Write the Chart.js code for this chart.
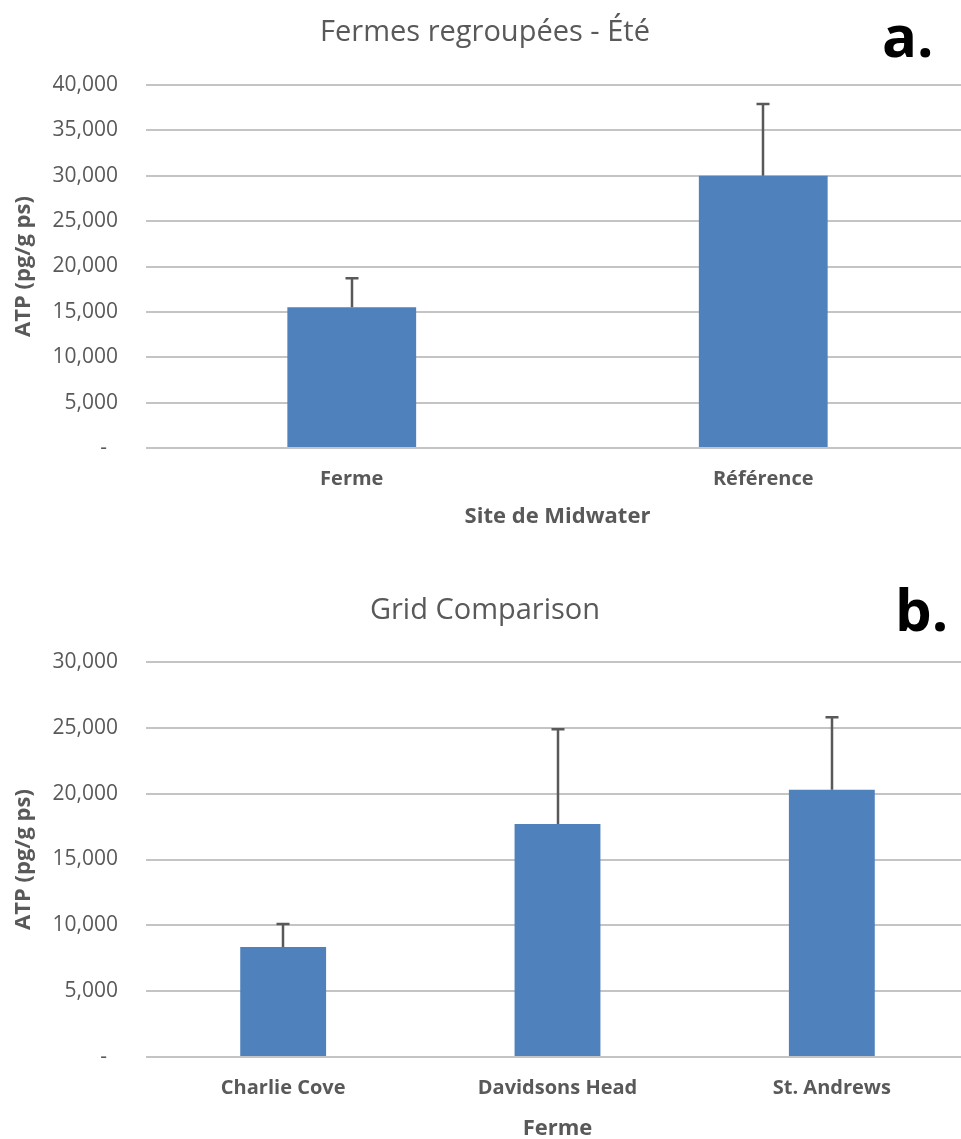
<!DOCTYPE html>
<html>
<head>
<meta charset="utf-8">
<script src="https://cdn.jsdelivr.net/npm/chart.js@4.4.1/dist/chart.umd.min.js"></script>
<style>
  html, body { margin: 0; padding: 0; background: #ffffff; overflow: hidden; width: 961px; height: 1139px; }
  .box { position: absolute; left: 0; width: 975px; }
  #boxA { top: 0; height: 560px; }
  #boxB { top: 560px; height: 579px; }
</style>
</head>
<body>
<div class="box" id="boxA"><canvas id="chartA"></canvas></div>
<div class="box" id="boxB"><canvas id="chartB"></canvas></div>
<script>
// ---- Data ----
const titleA = 'Fermes regroupées - Été';
const panelA = 'a.';
const categoriesA = ['Ferme', 'Référence'];
const meansA = [15500, 30000];
const errorsA = [3200, 7900];
const yTicksMaxA = 40000;
const xTitleA = 'Site de Midwater';

const titleB = 'Grid Comparison';
const panelB = 'b.';
const categoriesB = ['Charlie Cove', 'Davidsons Head', 'St. Andrews'];
const meansB = [8350, 17700, 20300];
const errorsB = [1750, 7200, 5500];
const yTicksMaxB = 30000;
const xTitleB = 'Ferme';

const yTitle = 'ATP (pg/g ps)';
const tickStep = 5000;

// ---- Styles ----
const FONT = "'Open Sans', 'Noto Sans', sans-serif";
const GREY = '#595959';
const BAR = '#4F81BD';
const GRID = '#C4C4C4';

function fmtTick(v) {
  return v === 0 ? '-  ' : v.toLocaleString('en-US');
}

const errorBarPlugin = {
  id: 'errorBars',
  afterDatasetsDraw(chart, args, opts) {
    const meta = chart.getDatasetMeta(0);
    const ys = chart.scales.y;
    const ctx = chart.ctx;
    const errs = opts.errors || [];
    ctx.save();
    ctx.strokeStyle = GREY;
    ctx.lineWidth = 2.5;
    meta.data.forEach((bar, i) => {
      const v = chart.data.datasets[0].data[i];
      const top = ys.getPixelForValue(v + errs[i]);
      const x = Math.round(bar.x);
      ctx.beginPath();
      ctx.moveTo(x, bar.y);
      ctx.lineTo(x, top);
      ctx.moveTo(x - 6.5, top);
      ctx.lineTo(x + 6.5, top);
      ctx.stroke();
    });
    ctx.restore();
  }
};

const headerPlugin = {
  id: 'header',
  afterDraw(chart, args, opts) {
    const ctx = chart.ctx;
    ctx.save();
    ctx.textBaseline = 'alphabetic';
    ctx.fillStyle = GREY;
    ctx.textAlign = 'center';
    ctx.font = "29px " + FONT;
    ctx.fillText(opts.title, 485, opts.titleY);
    ctx.fillStyle = '#000000';
    ctx.textAlign = 'left';
    ctx.font = "bold 58px " + FONT;
    ctx.fillText(opts.panel, opts.panelX, opts.panelY);
    ctx.restore();
  }
};

function makeChart(id, cats, means, errs, ymax, xTitle, padTop, xHeight, xTitlePad, hdr) {
  return new Chart(document.getElementById(id), {
    type: 'bar',
    data: {
      labels: cats,
      datasets: [{
        data: means,
        backgroundColor: BAR,
        borderWidth: 0,
        categoryPercentage: 1,
        barPercentage: 0.313
      }]
    },
    plugins: [errorBarPlugin, headerPlugin],
    options: {
      responsive: true,
      maintainAspectRatio: false,
      animation: false,
      devicePixelRatio: 1,
      layout: { padding: { top: padTop, left: 0, right: 6, bottom: 0 } },
      plugins: {
        legend: { display: false },
        tooltip: { enabled: false },
        title: { display: false },
        errorBars: { errors: errs },
        header: hdr
      },
      scales: {
        x: {
          grid: { display: false, drawTicks: false },
          border: { display: false },
          ticks: { color: GREY, font: { family: FONT, size: 20, weight: 'bold' }, padding: 19 },
          title: { display: true, text: xTitle, color: GREY, font: { family: FONT, size: 22, weight: 'bold' }, padding: { top: 0, bottom: xTitlePad } },
          afterFit(s) { s.height = xHeight; }
        },
        y: {
          min: 0,
          max: ymax,
          grid: { color: GRID, lineWidth: 2, drawTicks: false },
          border: { display: false },
          ticks: { stepSize: tickStep, color: GREY, font: { family: FONT, size: 21 }, padding: 28, callback: fmtTick },
          title: { display: true, text: yTitle, color: GREY, font: { family: FONT, size: 22, weight: 'bold' }, padding: { top: 11, bottom: 0 } },
          afterFit(s) { s.width = 146; }
        }
      }
    }
  });
}

makeChart('chartA', categoriesA, meansA, errorsA, yTicksMaxA, xTitleA, 85, 112, 30,
  { title: titleA, titleY: 41, panel: panelA, panelX: 882, panelY: 57 });
makeChart('chartB', categoriesB, meansB, errorsB, yTicksMaxB, xTitleB, 102, 82, -3,
  { title: titleB, titleY: 59, panel: panelB, panelX: 895, panelY: 71 });
</script>
</body>
</html>
